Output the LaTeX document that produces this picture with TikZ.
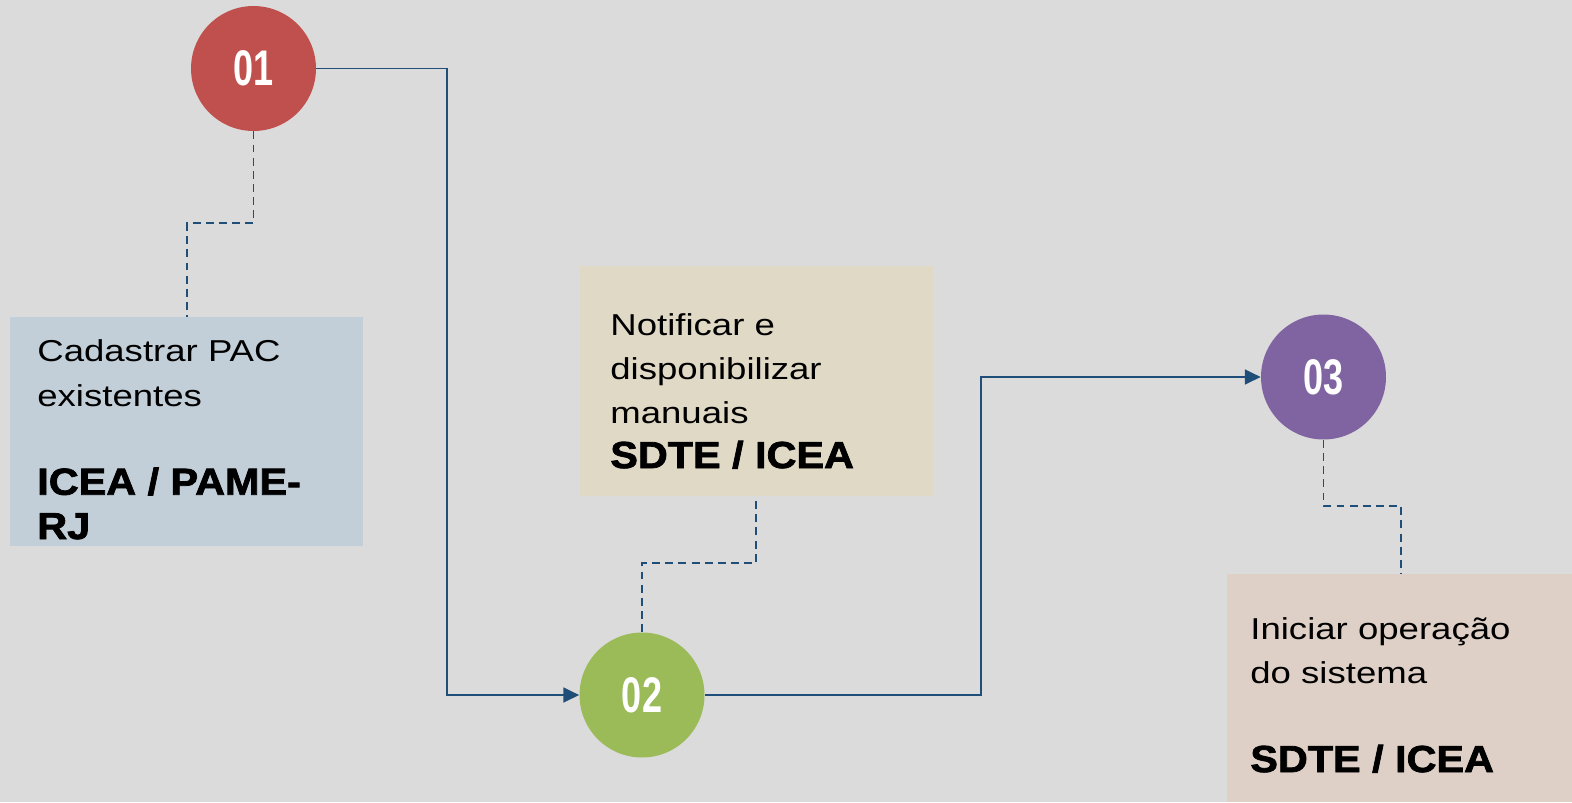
\documentclass[tikz,border=0pt]{standalone}
\usepackage{fontspec}
\setmainfont{Liberation Sans}
\newfontfamily\bodyfont{Liberation Sans}[FakeStretch=1.21]
\newfontfamily\leadfont{Liberation Sans}[FakeStretch=1.1,BoldFeatures={FakeBold=2}]
\newfontfamily\numfont{Liberation Sans}[FakeStretch=0.72]
\usetikzlibrary{arrows.meta}
\usetikzlibrary{calc}
\usetikzlibrary{positioning}

\definecolor{bgcolor}{RGB}{219,219,219}
\definecolor{linkblue}{RGB}{31,78,121}
\definecolor{stepred}{RGB}{192,80,77}
\definecolor{stepgreen}{RGB}{155,187,89}
\definecolor{steppurple}{RGB}{128,100,162}
\definecolor{cardblue}{RGB}{194,207,216}
\definecolor{cardsand}{RGB}{224,217,198}
\definecolor{cardrose}{RGB}{222,208,198}

\newcommand\resp[1]{{\leadfont\bfseries\fontsize{21.4}{25.2}\selectfont #1}}

\begin{document}
\begin{tikzpicture}[x=0.02cm,y=-0.02cm,
    stepnum/.style={circle,minimum size=2.5cm,inner sep=0pt,text=white,
      font=\numfont\bfseries\fontsize{28.5}{30}\selectfont},
    card/.style={rectangle,anchor=north west,inner sep=0pt},
    cardtext/.style={anchor=base west,align=left,inner sep=0pt,
      font=\bodyfont\fontsize{17.2}{25.2}\selectfont},
    flow/.style={draw=linkblue,line width=1.1pt,-{Triangle[length=9pt,width=8.5pt]}},
    link/.style={draw=linkblue,line width=1.1pt,dash pattern=on 4.5pt off 3pt}]
      \path[use as bounding box,fill=bgcolor] (0,0) rectangle (1572,802);

      % cards
      \node[card,fill=cardblue,minimum width=7.06cm,minimum height=4.58cm] (card1) at (10,317) {};
      \node[card,fill=cardsand,minimum width=7.06cm,minimum height=4.6cm] (card2) at (580,266) {};
      \node[card,fill=cardrose,minimum width=6.9cm,minimum height=4.56cm] (card3) at (1227,574) {};
      % base = last line
      \node[cardtext] (text1) at (37,539) {Cadastrar PAC\\existentes\\[25.2pt]\resp{ICEA / PAME-}\\\resp{RJ}};
      \node[cardtext] (text2) at (610,468) {Notificar e\\disponibilizar\\manuais\\\resp{SDTE / ICEA}};
      \node[cardtext] (text3) at (1250,772) {Iniciar operação\\do sistema\\[25.2pt]\resp{SDTE / ICEA}};

      % steps
      \node[stepnum,fill=stepred] (step1) at (253.5,68.5) {01};
      \node[stepnum,fill=stepgreen] (step2) at (642,695) {02};
      \node[stepnum,fill=steppurple] (step3) at (1323.5,377) {03};

      \draw[flow] (step1.east) -- ++(131,0) |- (step2.west);
      \draw[flow] (step2.east) -- ++(276,0) |- (step3.west);

      \draw[link] (step1.south) -- ++(0,92) -| ($(card1.north west)+(177,0)$);
      \draw[link] (step2.north) -- ++(0,-69) -| ($(card2.south west)+(176,0)$);
      \draw[link] (step3.south) -- ++(0,66) -| ($(card3.north west)+(174,0)$);
    \end{tikzpicture}
\end{document}
